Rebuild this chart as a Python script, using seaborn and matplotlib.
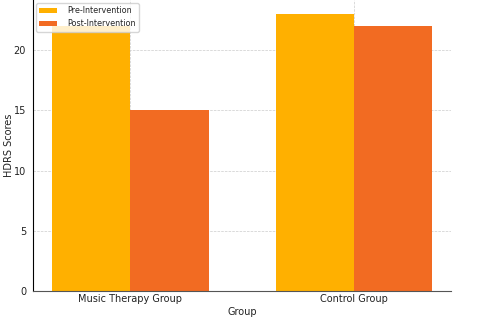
import matplotlib
matplotlib.use("Agg")
import matplotlib.pyplot as plt
import seaborn as sns
import pandas as pd

groups = ["Music Therapy Group", "Control Group"]
phases = ["Pre-Intervention", "Post-Intervention"]
pre_scores = [22, 23]
post_scores = [15, 22]
colors = ["#FFB000", "#F26B22"]

df = pd.DataFrame({
    "Group": groups * 2,
    "Phase": [phases[0]] * 2 + [phases[1]] * 2,
    "HDRS Scores": pre_scores + post_scores,
})

sns.set_style("white")
plt.rcParams['font.family'] = ['DejaVu Sans']

fig, ax = plt.subplots(figsize=(4.78, 3.23), dpi=100)
fig.subplots_adjust(left=0.069, right=0.944, bottom=0.099, top=1.0)

sns.barplot(data=df, x="Group", y="HDRS Scores", hue="Phase",
            palette=colors, width=0.7, ax=ax, saturation=1,
            edgecolor="none", linewidth=0)

ax.set_axisbelow(True)
ax.grid(True, linestyle="--", linewidth=0.5, color="#cccccc")
ax.set_xlim(-0.435, 1.435)
ax.set_ylim(0, 24.15)
ax.set_yticks([0, 5, 10, 15, 20])
ax.tick_params(axis="both", labelsize=7, length=3, width=0.6, pad=2, labelcolor="#222222")
ax.tick_params(axis="x", length=0)
ax.set_xlabel("Group", fontsize=7, labelpad=2, color="#222222")
ax.set_ylabel("HDRS Scores", fontsize=7, labelpad=0, color="#222222")

for s in ["top", "right"]:
    ax.spines[s].set_visible(False)
ax.spines["left"].set_color("black")
ax.spines["left"].set_linewidth(0.8)
ax.spines["bottom"].set_color("#555555")
ax.spines["bottom"].set_linewidth(0.8)

leg = ax.legend(loc="upper left", fontsize=5.8, framealpha=0.8,
                bbox_to_anchor=(0.0, 1.0), borderaxespad=0.4,
                handlelength=2.2, handletextpad=1.2)
leg.set_title(None)

fig.savefig("out.png", dpi=100)
